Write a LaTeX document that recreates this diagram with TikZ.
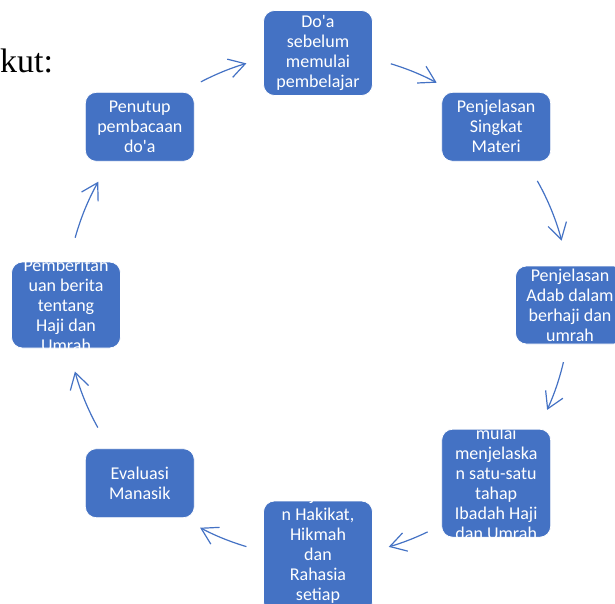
\documentclass[tikz,border=0pt]{standalone}
\usepackage{fontspec}
\setmainfont{Liberation Serif}
\newfontfamily\boxfont{Carlito}
\usetikzlibrary{arrows.meta}

\definecolor{smartblue}{HTML}{4472C4}

\begin{document}
\begin{tikzpicture}[x=1pt, y=1pt,
    stepbox/.style 2 args={draw=white, line width=0.75pt, fill=smartblue,
        rounded corners=11pt, minimum width=109pt, minimum height=#1,
        path picture={\node[boxtext] (t) at (path picture bounding box.center) {#2};}},
    boxtext/.style={draw=none, fill=none, path picture={}, minimum width=0pt,
        minimum height=0pt, inner sep=0pt, text=white, align=center,
        font=\boxfont\fontsize{18}{20}\selectfont},
    flowarc/.style={draw=smartblue, line width=1.2pt,
        -{Straight Barb[length=16pt, width=19pt]}}]
    \clip (-318, -298) rectangle (297, 305);
    \coordinate (c) at (0, 0);

    \node[anchor=base west, inner sep=0pt, font=\fontsize{34}{40}\selectfont] (kut) at (-318, 233) {kut:};

    % steps of the cycle, clockwise from the top
    \node[stepbox={85pt}{Do\textquotesingle a\\sebelum\\memulai\\pembelajar}] (doa) at (90:252) {};
    \node[stepbox={69pt}{Penjelasan\\Singkat\\Materi}] (singkat) at (45:252) {};
    \node[stepbox={78pt}{Penjelasan\\Adab dalam\\berhaji dan\\umrah}] (adab) at (0:252) {};
    \node[stepbox={108pt}{mulai\\menjelaska\\n satu-satu\\tahap\\Ibadah Haji\\dan Umrah}] (tahap) at (-45:252) {};
    \node[stepbox={112pt}{Menjelaska\\n Hakikat,\\Hikmah\\dan\\Rahasia\\setiap\\[6pt]\mbox{}}] (hakikat) at (-90:252) {};
    \node[stepbox={69pt}{Evaluasi\\Manasik}] (evaluasi) at (-135:252) {};
    \node[stepbox={86pt}{Pemberitah\\uan berita\\tentang\\Haji dan\\Umrah}] (berita) at (180:252) {};
    \node[stepbox={69pt}{Penutup\\pembacaan\\do\textquotesingle a}] (penutup) at (135:252) {};

    % arrows between the steps
    \draw[flowarc] (c) ++(117.7:252) arc[start angle=117.7, end angle=106.5, radius=252];
    \draw[flowarc] (c) ++(73.2:252) arc[start angle=73.2, end angle=61.9, radius=252];
    \draw[flowarc] (c) ++(29.5:252) arc[start angle=29.5, end angle=14.8, radius=252];
    \draw[flowarc] (c) ++(-13.1:252) arc[start angle=-13.1, end angle=-24.6, radius=252];
    \draw[flowarc] (c) ++(-64.2:252) arc[start angle=-64.2, end angle=-73.7, radius=252];
    \draw[flowarc] (c) ++(-106.5:252) arc[start angle=-106.5, end angle=-117.9, radius=252];
    \draw[flowarc] (c) ++(-150.9:252) arc[start angle=-150.9, end angle=-164.7, radius=252];
    \draw[flowarc] (c) ++(164.5:252) arc[start angle=164.5, end angle=150.7, radius=252];
\end{tikzpicture}
\end{document}
